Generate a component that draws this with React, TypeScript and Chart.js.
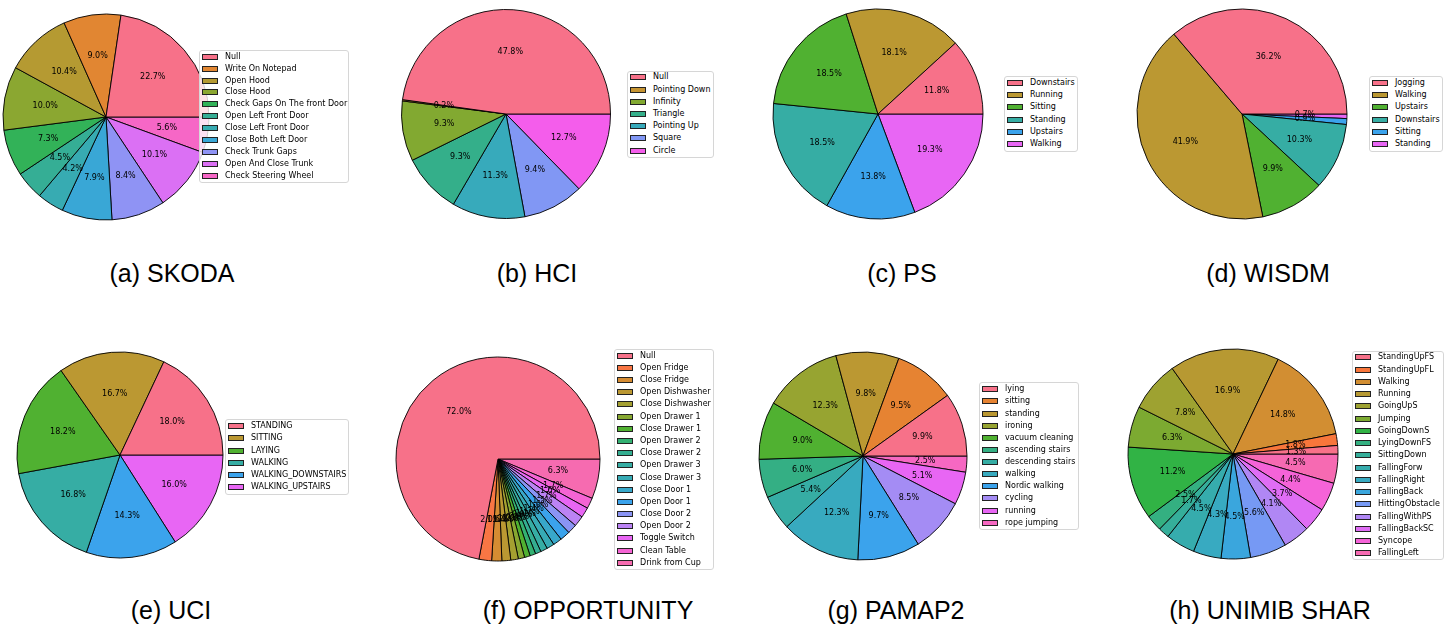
import React, { useEffect, useRef } from "react";
import { Chart, PieController, ArcElement } from "chart.js";

Chart.register(PieController, ArcElement);

// ---- (a) SKODA ----
const skodaLabels = [
  "Null", "Write On Notepad", "Open Hood", "Close Hood", "Check Gaps On The front Door",
  "Open Left Front Door", "Close Left Front Door", "Close Both Left Door", "Check Trunk Gaps",
  "Open And Close Trunk", "Check Steering Wheel",
];
const skodaValues = [22.7, 9.0, 10.4, 10.0, 7.3, 4.5, 4.2, 7.9, 8.4, 10.1, 5.6];

// ---- (b) HCI ----
const hciLabels = ["Null", "Pointing Down", "Infinity", "Triangle", "Pointing Up", "Square", "Circle"];
const hciValues = [47.8, 0.2, 9.3, 9.3, 11.3, 9.4, 12.7];

// ---- (c) PS ----
const psLabels = ["Downstairs", "Running", "Sitting", "Standing", "Upstairs", "Walking"];
const psValues = [11.8, 18.1, 18.5, 18.5, 13.8, 19.3];

// ---- (d) WISDM ----
const wisdmLabels = ["Jogging", "Walking", "Upstairs", "Downstairs", "Sitting", "Standing"];
const wisdmValues = [36.2, 41.9, 9.9, 10.3, 0.9, 0.7];

// ---- (e) UCI ----
const uciLabels = ["STANDING", "SITTING", "LAYING", "WALKING", "WALKING_DOWNSTAIRS", "WALKING_UPSTAIRS"];
const uciValues = [18.0, 16.7, 18.2, 16.8, 14.3, 16.0];

// ---- (f) OPPORTUNITY ----
const oppLabels = [
  "Null", "Open Fridge", "Close Fridge", "Open Dishwasher", "Close Dishwasher", "Open Drawer 1",
  "Close Drawer 1", "Open Drawer 2", "Close Drawer 2", "Open Drawer 3", "Close Drawer 3",
  "Close Door 1", "Open Door 1", "Close Door 2", "Open Door 2", "Toggle Switch", "Clean Table",
  "Drink from Cup",
];
const oppValues = [72.0, 2.0, 1.6, 1.4, 1.2, 1.0, 0.9, 0.9, 0.9, 1.1, 1.2, 1.4, 1.6, 1.5, 1.7, 1.6, 1.7, 6.3];

// ---- (g) PAMAP2 ----
const pamapLabels = [
  "lying", "sitting", "standing", "ironing", "vacuum cleaning", "ascending stairs",
  "descending stairs", "walking", "Nordic walking", "cycling", "running", "rope jumping",
];
const pamapValues = [9.9, 9.5, 9.8, 12.3, 9.0, 6.0, 5.4, 12.3, 9.7, 8.5, 5.1, 2.5];

// ---- (h) UNIMIB SHAR ----
const unimibLabels = [
  "StandingUpFS", "StandingUpFL", "Walking", "Running", "GoingUpS", "Jumping", "GoingDownS",
  "LyingDownFS", "SittingDown", "FallingForw", "FallingRight", "FallingBack", "HittingObstacle",
  "FallingWithPS", "FallingBackSC", "Syncope", "FallingLeft",
];
const unimibValues = [1.3, 1.8, 14.8, 16.9, 7.8, 6.3, 11.2, 2.5, 1.7, 4.5, 4.3, 4.5, 5.6, 4.1, 3.7, 4.4, 4.5];

// ---- HUSL palette (evenly spaced hues, fixed saturation / lightness) ----
const M = [
  [3.2406, -1.5372, -0.4986],
  [-0.9689, 1.8758, 0.0415],
  [0.0557, -0.204, 1.057],
];

function maxChroma(L: number, H: number): number {
  const hrad = (H * Math.PI) / 180;
  const sinH = Math.sin(hrad);
  const cosH = Math.cos(hrad);
  const sub1 = Math.pow(L + 16, 3) / 1560896;
  const sub2 = sub1 > 0.008856 ? sub1 : L / 903.3;
  let result = Infinity;
  for (const [m1, m2, m3] of M) {
    const top = (0.99915 * m1 + 1.05122 * m2 + 1.1446 * m3) * sub2;
    const rbottom = 0.8633 * m3 - 0.17266 * m2;
    const lbottom = 0.12949 * m3 - 0.38848 * m1;
    const bottom = (rbottom * sinH + lbottom * cosH) * sub2;
    for (const t of [0, 1]) {
      const C = (L * (top - 1.05122 * t)) / (bottom + 0.17266 * sinH * t);
      if (C > 0 && C < result) result = C;
    }
  }
  return result;
}

function huslToHex(H: number, S: number, L: number): string {
  const C = (maxChroma(L, H) / 100) * S;
  const hr = (H * Math.PI) / 180;
  const U = Math.cos(hr) * C;
  const V = Math.sin(hr) * C;
  const t = (L + 16) / 116;
  const Y = Math.pow(t, 3) > 0.008856 ? Math.pow(t, 3) : (116 * t - 16) / 903.3;
  const varU = U / (13 * L) + 0.19784;
  const varV = V / (13 * L) + 0.46834;
  const X = -(9 * Y * varU) / ((varU - 4) * varV - varU * varV);
  const Z = (9 * Y - 15 * varV * Y - varV * X) / (3 * varV);
  const rgb = M.map((row) => row[0] * X + row[1] * Y + row[2] * Z)
    .map((c) => (c <= 0.0031308 ? 12.92 * c : 1.055 * Math.pow(c, 1 / 2.4) - 0.055))
    .map((c) => Math.round(Math.min(1, Math.max(0, c)) * 255));
  return "#" + rgb.map((v) => v.toString(16).padStart(2, "0")).join("");
}

function huslPalette(n: number): string[] {
  const out: string[] = [];
  for (let i = 0; i < n; i++) {
    const h = ((i / n + 0.01) % 1) * 359;
    out.push(huslToHex(h, 0.9 * 99, 0.65 * 99));
  }
  return out;
}

// ---- percentage labels at 60% of the radius ----
const pctLabels = {
  id: "pctLabels",
  afterDatasetsDraw(chart: any) {
    const ctx = chart.ctx as CanvasRenderingContext2D;
    const meta = chart.getDatasetMeta(0);
    const data = chart.data.datasets[0].data as number[];
    ctx.save();
    ctx.font = "8px 'DejaVu Sans'";
    ctx.fillStyle = "#000";
    ctx.textAlign = "center";
    ctx.textBaseline = "middle";
    meta.data.forEach((arc: any, i: number) => {
      const { x, y, startAngle, endAngle, outerRadius } = arc.getProps(
        ["x", "y", "startAngle", "endAngle", "outerRadius"],
        true
      );
      const mid = (startAngle + endAngle) / 2;
      ctx.fillText(
        data[i].toFixed(1) + "%",
        x + Math.cos(mid) * outerRadius * 0.6,
        y + Math.sin(mid) * outerRadius * 0.6
      );
    });
    ctx.restore();
  },
};

type Panel = {
  labels: string[];
  values: number[];
  caption: string;
  cx: number;
  cy: number;
  r: number;
  legend: { x: number; y: number; w: number; h: number; first: number; step: number };
  capX: number;
  capBase: number;
};

const panels: Panel[] = [
  { labels: skodaLabels, values: skodaValues, caption: "(a) SKODA", cx: 106, cy: 117, r: 103,
    legend: { x: 199, y: 50, w: 150, h: 133, first: 56.7, step: 11.9 }, capX: 172, capBase: 282 },
  { labels: hciLabels, values: hciValues, caption: "(b) HCI", cx: 506, cy: 114, r: 104.5,
    legend: { x: 627, y: 71, w: 87, h: 87, first: 77.3, step: 12.23 }, capX: 537, capBase: 282 },
  { labels: psLabels, values: psValues, caption: "(c) PS", cx: 878, cy: 114, r: 105,
    legend: { x: 1004, y: 76, w: 74, h: 76, first: 82.7, step: 12.27 }, capX: 902, capBase: 282 },
  { labels: wisdmLabels, values: wisdmValues, caption: "(d) WISDM", cx: 1242, cy: 114, r: 105,
    legend: { x: 1369, y: 76, w: 74, h: 76, first: 82.7, step: 12.27 }, capX: 1268, capBase: 282 },
  { labels: uciLabels, values: uciValues, caption: "(e) UCI", cx: 120, cy: 455, r: 103,
    legend: { x: 225, y: 419, w: 124, h: 76, first: 426.3, step: 12.13 }, capX: 171, capBase: 619 },
  { labels: oppLabels, values: oppValues, caption: "(f) OPPORTUNITY", cx: 498, cy: 459, r: 102,
    legend: { x: 614, y: 349, w: 100, h: 221, first: 355.7, step: 12.18 }, capX: 588, capBase: 619 },
  { labels: pamapLabels, values: pamapValues, caption: "(g) PAMAP2", cx: 863, cy: 456, r: 104,
    legend: { x: 979, y: 382, w: 100, h: 148, first: 389.3, step: 12.12 }, capX: 896, capBase: 619 },
  { labels: unimibLabels, values: unimibValues, caption: "(h) UNIMIB SHAR", cx: 1233, cy: 454, r: 105,
    legend: { x: 1352, y: 351, w: 92, h: 209, first: 357.3, step: 12.25 }, capX: 1270, capBase: 619 },
];

const CANVAS = 240;

function PiePanel({ p }: { p: Panel }) {
  const ref = useRef<HTMLCanvasElement>(null);
  const colors = huslPalette(p.values.length);

  useEffect(() => {
    if (!ref.current) return;
    // Chart.js sweeps clockwise; reversing the order and starting at 3 o'clock
    // gives a counter-clockwise layout that begins with the first class.
    const chart = new Chart(ref.current, {
      type: "pie",
      data: {
        labels: [...p.labels].reverse(),
        datasets: [
          {
            data: [...p.values].reverse(),
            backgroundColor: [...colors].reverse(),
            borderColor: "#000",
            borderWidth: 0.9,
          },
        ],
      },
      options: {
        responsive: false,
        animation: false,
        rotation: 90,
        radius: p.r,
        layout: { padding: 0 },
        events: [],
        plugins: { legend: { display: false }, tooltip: { enabled: false } },
      } as any,
      plugins: [pctLabels as any],
    });
    return () => chart.destroy();
  }, []);

  const L = p.legend;
  return (
    <>
      <canvas
        ref={ref}
        width={CANVAS}
        height={CANVAS}
        style={{
          position: "absolute",
          left: p.cx - CANVAS / 2,
          top: p.cy - CANVAS / 2,
          width: CANVAS,
          height: CANVAS,
        }}
      />
      <div
        style={{
          position: "absolute",
          left: L.x,
          top: L.y,
          width: L.w,
          height: L.h,
          boxSizing: "border-box",
          border: "1px solid #d6d6d6",
          borderRadius: 3,
          background: "rgba(255,255,255,0.8)",
        }}
      >
        {p.labels.map((lab, i) => {
          const rowY = L.first - L.y - 1 + i * L.step;
          return (
            <React.Fragment key={lab}>
              <div
                style={{
                  position: "absolute",
                  left: 2,
                  top: rowY - 3,
                  width: 16,
                  height: 6,
                  boxSizing: "border-box",
                  background: colors[i],
                  border: "1px solid #222",
                }}
              />
              <div
                style={{
                  position: "absolute",
                  left: 25,
                  top: rowY - 5,
                  font: "8px 'DejaVu Sans'",
                  lineHeight: "10px",
                  color: "#000",
                  whiteSpace: "nowrap",
                }}
              >
                {lab}
              </div>
            </React.Fragment>
          );
        })}
      </div>
      <div
        style={{
          position: "absolute",
          left: p.capX - 200,
          width: 400,
          top: p.capBase - 21.2,
          textAlign: "center",
          font: "25px 'Liberation Sans'",
          lineHeight: "25px",
          color: "#000",
        }}
      >
        {p.caption}
      </div>
    </>
  );
}

export default function App() {
  return (
    <div
      style={{
        position: "absolute",
        left: 0,
        top: 0,
        width: 1445,
        height: 633,
        overflow: "hidden",
        background: "#fff",
      }}
    >
      {panels.map((p) => (
        <PiePanel key={p.caption} p={p} />
      ))}
    </div>
  );
}
